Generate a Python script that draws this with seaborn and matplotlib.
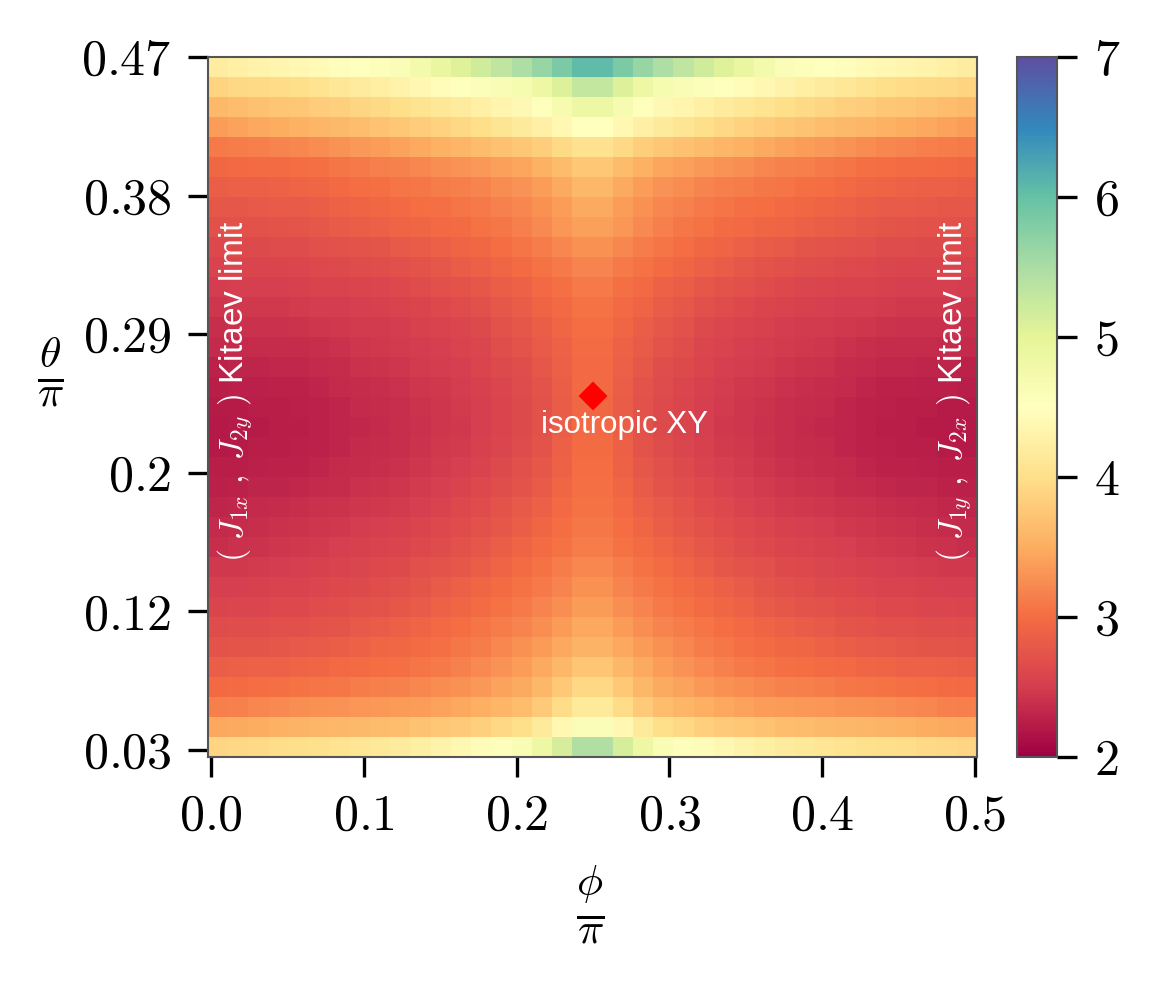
import numpy as np
import pandas as pd
import matplotlib
matplotlib.use("Agg")
import matplotlib.pyplot as plt
import seaborn as sns

# ---------------- data ----------------
# phi/pi at the centre of each column
phi_cols = [0.005, 0.018, 0.031, 0.045, 0.058, 0.071, 0.084, 0.098, 0.111,
            0.124, 0.137, 0.151, 0.164, 0.177, 0.190, 0.204, 0.217, 0.230,
            0.243, 0.257, 0.270, 0.283, 0.296, 0.310, 0.323, 0.336, 0.349,
            0.363, 0.376, 0.389, 0.402, 0.416, 0.429, 0.442, 0.455, 0.469,
            0.482, 0.495]
# theta/pi at the centre of each row (top to bottom)
theta_rows = [0.464, 0.451, 0.438, 0.426, 0.413, 0.400, 0.388, 0.375, 0.362,
              0.350, 0.337, 0.324, 0.311, 0.299, 0.286, 0.273, 0.261, 0.248,
              0.235, 0.223, 0.210, 0.197, 0.184, 0.172, 0.159, 0.146, 0.134,
              0.121, 0.108, 0.096, 0.083, 0.070, 0.058, 0.045, 0.032]
# gap value in each cell, one list per theta row (top row first)
gap = [
    [4.22, 4.26, 4.30, 4.34, 4.38, 4.42, 4.47, 4.51, 4.56, 4.60, 4.75, 4.90, 5.05, 5.19, 5.33, 5.46, 5.64, 5.84, 6.05,
     6.05, 5.84, 5.64, 5.46, 5.33, 5.19, 5.05, 4.90, 4.75, 4.60, 4.56, 4.51, 4.47, 4.42, 4.38, 4.34, 4.30, 4.26, 4.22],
    [3.89, 3.92, 3.94, 3.97, 4.00, 4.06, 4.12, 4.18, 4.24, 4.30, 4.38, 4.45, 4.53, 4.59, 4.65, 4.71, 4.85, 5.07, 5.30,
     5.30, 5.07, 4.85, 4.71, 4.65, 4.59, 4.53, 4.45, 4.38, 4.30, 4.24, 4.18, 4.12, 4.06, 4.00, 3.97, 3.94, 3.92, 3.89],
    [3.61, 3.65, 3.68, 3.72, 3.75, 3.80, 3.85, 3.90, 3.95, 4.00, 4.06, 4.12, 4.18, 4.25, 4.33, 4.40, 4.52, 4.68, 4.85,
     4.85, 4.68, 4.52, 4.40, 4.33, 4.25, 4.18, 4.12, 4.06, 4.00, 3.95, 3.90, 3.85, 3.80, 3.75, 3.72, 3.68, 3.65, 3.61],
    [3.37, 3.41, 3.45, 3.49, 3.53, 3.57, 3.62, 3.66, 3.71, 3.75, 3.81, 3.87, 3.93, 4.00, 4.08, 4.15, 4.25, 4.37, 4.50,
     4.50, 4.37, 4.25, 4.15, 4.08, 4.00, 3.93, 3.87, 3.81, 3.75, 3.71, 3.66, 3.62, 3.57, 3.53, 3.49, 3.45, 3.41, 3.37],
    [3.11, 3.13, 3.15, 3.18, 3.20, 3.24, 3.29, 3.33, 3.38, 3.42, 3.47, 3.53, 3.58, 3.64, 3.69, 3.74, 3.83, 3.94, 4.05,
     4.05, 3.94, 3.83, 3.74, 3.69, 3.64, 3.58, 3.53, 3.47, 3.42, 3.38, 3.33, 3.29, 3.24, 3.20, 3.18, 3.15, 3.13, 3.11],
    [2.95, 2.97, 2.98, 2.99, 3.00, 3.03, 3.07, 3.10, 3.14, 3.17, 3.21, 3.25, 3.29, 3.34, 3.39, 3.44, 3.53, 3.64, 3.75,
     3.75, 3.64, 3.53, 3.44, 3.39, 3.34, 3.29, 3.25, 3.21, 3.17, 3.14, 3.10, 3.07, 3.03, 3.00, 2.99, 2.98, 2.97, 2.95],
    [2.85, 2.86, 2.87, 2.89, 2.90, 2.93, 2.96, 3.00, 3.03, 3.06, 3.09, 3.12, 3.15, 3.19, 3.24, 3.29, 3.37, 3.48, 3.60,
     3.60, 3.48, 3.37, 3.29, 3.24, 3.19, 3.15, 3.12, 3.09, 3.06, 3.03, 3.00, 2.96, 2.93, 2.90, 2.89, 2.87, 2.86, 2.85],
    [2.77, 2.78, 2.79, 2.81, 2.82, 2.85, 2.88, 2.91, 2.94, 2.97, 3.00, 3.03, 3.06, 3.10, 3.16, 3.21, 3.28, 3.38, 3.48,
     3.48, 3.38, 3.28, 3.21, 3.16, 3.10, 3.06, 3.03, 3.00, 2.97, 2.94, 2.91, 2.88, 2.85, 2.82, 2.81, 2.79, 2.78, 2.77],
    [2.70, 2.71, 2.72, 2.74, 2.75, 2.78, 2.81, 2.84, 2.87, 2.90, 2.93, 2.96, 2.99, 3.04, 3.09, 3.14, 3.22, 3.31, 3.40,
     3.40, 3.31, 3.22, 3.14, 3.09, 3.04, 2.99, 2.96, 2.93, 2.90, 2.87, 2.84, 2.81, 2.78, 2.75, 2.74, 2.72, 2.71, 2.70],
    [2.62, 2.63, 2.64, 2.65, 2.66, 2.69, 2.71, 2.74, 2.76, 2.79, 2.83, 2.86, 2.90, 2.95, 3.00, 3.06, 3.13, 3.20, 3.28,
     3.28, 3.20, 3.13, 3.06, 3.00, 2.95, 2.90, 2.86, 2.83, 2.79, 2.76, 2.74, 2.71, 2.69, 2.66, 2.65, 2.64, 2.63, 2.62],
    [2.56, 2.57, 2.58, 2.58, 2.59, 2.61, 2.63, 2.65, 2.67, 2.69, 2.74, 2.78, 2.83, 2.87, 2.92, 2.98, 3.04, 3.11, 3.18,
     3.18, 3.11, 3.04, 2.98, 2.92, 2.87, 2.83, 2.78, 2.74, 2.69, 2.67, 2.65, 2.63, 2.61, 2.59, 2.58, 2.58, 2.57, 2.56],
    [2.50, 2.51, 2.52, 2.52, 2.53, 2.55, 2.56, 2.58, 2.59, 2.61, 2.65, 2.69, 2.73, 2.78, 2.84, 2.89, 2.96, 3.03, 3.10,
     3.10, 3.03, 2.96, 2.89, 2.84, 2.78, 2.73, 2.69, 2.65, 2.61, 2.59, 2.58, 2.56, 2.55, 2.53, 2.52, 2.52, 2.51, 2.50],
    [2.44, 2.45, 2.46, 2.46, 2.47, 2.49, 2.50, 2.52, 2.53, 2.55, 2.58, 2.62, 2.65, 2.70, 2.77, 2.83, 2.90, 2.97, 3.05,
     3.05, 2.97, 2.90, 2.83, 2.77, 2.70, 2.65, 2.62, 2.58, 2.55, 2.53, 2.52, 2.50, 2.49, 2.47, 2.46, 2.46, 2.45, 2.44],
    [2.39, 2.40, 2.41, 2.41, 2.42, 2.44, 2.45, 2.47, 2.48, 2.50, 2.53, 2.56, 2.59, 2.64, 2.71, 2.78, 2.85, 2.92, 3.00,
     3.00, 2.92, 2.85, 2.78, 2.71, 2.64, 2.59, 2.56, 2.53, 2.50, 2.48, 2.47, 2.45, 2.44, 2.42, 2.41, 2.41, 2.40, 2.39],
    [2.34, 2.35, 2.36, 2.36, 2.37, 2.39, 2.41, 2.43, 2.45, 2.47, 2.50, 2.52, 2.55, 2.60, 2.67, 2.73, 2.81, 2.89, 2.98,
     2.98, 2.89, 2.81, 2.73, 2.67, 2.60, 2.55, 2.52, 2.50, 2.47, 2.45, 2.43, 2.41, 2.39, 2.37, 2.36, 2.36, 2.35, 2.34],
    [2.29, 2.30, 2.31, 2.32, 2.33, 2.35, 2.37, 2.40, 2.42, 2.44, 2.47, 2.49, 2.52, 2.57, 2.63, 2.68, 2.77, 2.87, 2.97,
     2.97, 2.87, 2.77, 2.68, 2.63, 2.57, 2.52, 2.49, 2.47, 2.44, 2.42, 2.40, 2.37, 2.35, 2.33, 2.32, 2.31, 2.30, 2.29],
    [2.25, 2.26, 2.27, 2.28, 2.29, 2.31, 2.34, 2.36, 2.39, 2.41, 2.44, 2.46, 2.49, 2.54, 2.60, 2.65, 2.74, 2.85, 2.96,
     2.96, 2.85, 2.74, 2.65, 2.60, 2.54, 2.49, 2.46, 2.44, 2.41, 2.39, 2.36, 2.34, 2.31, 2.29, 2.28, 2.27, 2.26, 2.25],
    [2.22, 2.23, 2.24, 2.25, 2.26, 2.29, 2.31, 2.34, 2.36, 2.39, 2.42, 2.44, 2.47, 2.52, 2.58, 2.63, 2.72, 2.83, 2.95,
     2.95, 2.83, 2.72, 2.63, 2.58, 2.52, 2.47, 2.44, 2.42, 2.39, 2.36, 2.34, 2.31, 2.29, 2.26, 2.25, 2.24, 2.23, 2.22],
    [2.21, 2.22, 2.23, 2.24, 2.25, 2.28, 2.30, 2.33, 2.35, 2.38, 2.41, 2.43, 2.46, 2.51, 2.57, 2.63, 2.72, 2.84, 2.96,
     2.96, 2.84, 2.72, 2.63, 2.57, 2.51, 2.46, 2.43, 2.41, 2.38, 2.35, 2.33, 2.30, 2.28, 2.25, 2.24, 2.23, 2.22, 2.21],
    [2.21, 2.23, 2.24, 2.25, 2.26, 2.29, 2.31, 2.34, 2.36, 2.39, 2.42, 2.45, 2.48, 2.53, 2.59, 2.65, 2.74, 2.86, 2.98,
     2.98, 2.86, 2.74, 2.65, 2.59, 2.53, 2.48, 2.45, 2.42, 2.39, 2.36, 2.34, 2.31, 2.29, 2.26, 2.25, 2.24, 2.23, 2.21],
    [2.24, 2.25, 2.26, 2.28, 2.29, 2.31, 2.34, 2.36, 2.39, 2.41, 2.44, 2.48, 2.51, 2.56, 2.63, 2.69, 2.78, 2.89, 3.00,
     3.00, 2.89, 2.78, 2.69, 2.63, 2.56, 2.51, 2.48, 2.44, 2.41, 2.39, 2.36, 2.34, 2.31, 2.29, 2.28, 2.26, 2.25, 2.24],
    [2.27, 2.28, 2.30, 2.31, 2.33, 2.35, 2.37, 2.40, 2.42, 2.44, 2.48, 2.52, 2.56, 2.61, 2.68, 2.74, 2.82, 2.92, 3.02,
     3.02, 2.92, 2.82, 2.74, 2.68, 2.61, 2.56, 2.52, 2.48, 2.44, 2.42, 2.40, 2.37, 2.35, 2.33, 2.31, 2.30, 2.28, 2.27],
    [2.31, 2.32, 2.34, 2.36, 2.38, 2.40, 2.42, 2.44, 2.46, 2.48, 2.52, 2.56, 2.61, 2.66, 2.73, 2.79, 2.87, 2.96, 3.05,
     3.05, 2.96, 2.87, 2.79, 2.73, 2.66, 2.61, 2.56, 2.52, 2.48, 2.46, 2.44, 2.42, 2.40, 2.38, 2.36, 2.34, 2.32, 2.31],
    [2.34, 2.36, 2.38, 2.40, 2.42, 2.44, 2.46, 2.49, 2.51, 2.53, 2.57, 2.61, 2.66, 2.71, 2.78, 2.85, 2.92, 3.00, 3.08,
     3.08, 3.00, 2.92, 2.85, 2.78, 2.71, 2.66, 2.61, 2.57, 2.53, 2.51, 2.49, 2.46, 2.44, 2.42, 2.40, 2.38, 2.36, 2.34],
    [2.38, 2.40, 2.42, 2.44, 2.46, 2.48, 2.51, 2.53, 2.56, 2.58, 2.62, 2.66, 2.71, 2.77, 2.84, 2.90, 2.98, 3.05, 3.12,
     3.12, 3.05, 2.98, 2.90, 2.84, 2.77, 2.71, 2.66, 2.62, 2.58, 2.56, 2.53, 2.51, 2.48, 2.46, 2.44, 2.42, 2.40, 2.38],
    [2.45, 2.46, 2.48, 2.49, 2.51, 2.54, 2.56, 2.59, 2.61, 2.64, 2.69, 2.74, 2.78, 2.84, 2.91, 2.98, 3.05, 3.12, 3.20,
     3.20, 3.12, 3.05, 2.98, 2.91, 2.84, 2.78, 2.74, 2.69, 2.64, 2.61, 2.59, 2.56, 2.54, 2.51, 2.49, 2.48, 2.46, 2.45],
    [2.51, 2.52, 2.53, 2.55, 2.56, 2.59, 2.62, 2.64, 2.67, 2.70, 2.75, 2.81, 2.86, 2.92, 2.98, 3.04, 3.11, 3.19, 3.27,
     3.27, 3.19, 3.11, 3.04, 2.98, 2.92, 2.86, 2.81, 2.75, 2.70, 2.67, 2.64, 2.62, 2.59, 2.56, 2.55, 2.53, 2.52, 2.51],
    [2.57, 2.59, 2.60, 2.61, 2.62, 2.65, 2.68, 2.71, 2.74, 2.77, 2.82, 2.88, 2.93, 2.99, 3.05, 3.10, 3.18, 3.26, 3.35,
     3.35, 3.26, 3.18, 3.10, 3.05, 2.99, 2.93, 2.88, 2.82, 2.77, 2.74, 2.71, 2.68, 2.65, 2.62, 2.61, 2.60, 2.59, 2.57],
    [2.65, 2.67, 2.68, 2.69, 2.70, 2.73, 2.76, 2.80, 2.83, 2.86, 2.91, 2.96, 3.00, 3.06, 3.12, 3.18, 3.26, 3.36, 3.46,
     3.46, 3.36, 3.26, 3.18, 3.12, 3.06, 3.00, 2.96, 2.91, 2.86, 2.83, 2.80, 2.76, 2.73, 2.70, 2.69, 2.68, 2.67, 2.65],
    [2.74, 2.75, 2.76, 2.78, 2.79, 2.82, 2.85, 2.89, 2.92, 2.95, 2.99, 3.03, 3.08, 3.13, 3.20, 3.27, 3.36, 3.46, 3.56,
     3.56, 3.46, 3.36, 3.27, 3.20, 3.13, 3.08, 3.03, 2.99, 2.95, 2.92, 2.89, 2.85, 2.82, 2.79, 2.78, 2.76, 2.75, 2.74],
    [2.85, 2.86, 2.88, 2.89, 2.91, 2.93, 2.96, 2.98, 3.01, 3.03, 3.07, 3.11, 3.16, 3.22, 3.30, 3.37, 3.47, 3.59, 3.72,
     3.72, 3.59, 3.47, 3.37, 3.30, 3.22, 3.16, 3.11, 3.07, 3.03, 3.01, 2.98, 2.96, 2.93, 2.91, 2.89, 2.88, 2.86, 2.85],
    [2.97, 2.99, 3.01, 3.03, 3.05, 3.07, 3.09, 3.12, 3.14, 3.16, 3.20, 3.24, 3.28, 3.34, 3.41, 3.48, 3.60, 3.76, 3.92,
     3.92, 3.76, 3.60, 3.48, 3.41, 3.34, 3.28, 3.24, 3.20, 3.16, 3.14, 3.12, 3.09, 3.07, 3.05, 3.03, 3.01, 2.99, 2.97],
    [3.15, 3.17, 3.20, 3.22, 3.25, 3.27, 3.29, 3.31, 3.33, 3.35, 3.38, 3.42, 3.45, 3.51, 3.58, 3.65, 3.78, 3.96, 4.15,
     4.15, 3.96, 3.78, 3.65, 3.58, 3.51, 3.45, 3.42, 3.38, 3.35, 3.33, 3.31, 3.29, 3.27, 3.25, 3.22, 3.20, 3.17, 3.15],
    [3.46, 3.48, 3.50, 3.53, 3.55, 3.57, 3.59, 3.61, 3.63, 3.65, 3.70, 3.74, 3.79, 3.85, 3.93, 4.00, 4.15, 4.37, 4.60,
     4.60, 4.37, 4.15, 4.00, 3.93, 3.85, 3.79, 3.74, 3.70, 3.65, 3.63, 3.61, 3.59, 3.57, 3.55, 3.53, 3.50, 3.48, 3.46],
    [3.91, 3.93, 3.95, 3.98, 4.00, 4.03, 4.07, 4.10, 4.14, 4.17, 4.24, 4.31, 4.38, 4.46, 4.55, 4.64, 4.84, 5.14, 5.45,
     5.45, 5.14, 4.84, 4.64, 4.55, 4.46, 4.38, 4.31, 4.24, 4.17, 4.14, 4.10, 4.07, 4.03, 4.00, 3.98, 3.95, 3.93, 3.91],
]

xtick_vals = [0.0, 0.1, 0.2, 0.3, 0.4, 0.5]
xtick_labels = ["0.0", "0.1", "0.2", "0.3", "0.4", "0.5"]
ytick_vals = [0.47, 0.382, 0.294, 0.206, 0.118, 0.03]
ytick_labels = ["0.47", "0.38", "0.29", "0.2", "0.12", "0.03"]
cbar_ticks = [2, 3, 4, 5, 6, 7]
iso_phi, iso_theta = 0.25, 0.255

# ---------------- style ----------------
plt.rcParams["mathtext.fontset"] = "cm"
plt.rcParams["font.family"] = ["Liberation Sans", "DejaVu Sans"]

W, H = 1159, 983
fig = plt.figure(figsize=(W / 300, H / 300), dpi=300)
ax = fig.add_axes([208 / W, 1 - 757 / H, 769 / W, 700 / H])
cax = fig.add_axes([1017 / W, 1 - 757 / H, 40 / W, 700 / H])

df = pd.DataFrame(gap, index=theta_rows, columns=phi_cols)
sns.heatmap(df, ax=ax, cbar_ax=cax, cmap="Spectral", vmin=2, vmax=7,
            xticklabels=False, yticklabels=False)

nr, nc = df.shape


def xpos(p):
    return nc * (3 + p / 0.5 * 764) / 769


def ypos(t):
    return nr * ((0.47 - t) / 0.44 * 693) / 700


ax.set_xticks([xpos(p) for p in xtick_vals])
ax.set_xticklabels(["$%s$" % s for s in xtick_labels], rotation=0)
ax.set_yticks([ypos(t) for t in ytick_vals])
ax.set_yticklabels(["$%s$" % s for s in ytick_labels], rotation=0)
ax.tick_params(length=4.8, width=0.8, labelsize=12, pad=4, color="black",
               direction="out")
for sp in ax.spines.values():
    sp.set_visible(True)
    sp.set_linewidth(0.5)
    sp.set_edgecolor("#555555")

cbar = ax.collections[0].colorbar
cbar.set_ticks(cbar_ticks)
cbar.set_ticklabels(["$%d$" % v for v in cbar_ticks])
cbar.outline.set_visible(True)
cbar.outline.set_linewidth(0.5)
cbar.outline.set_edgecolor("#555555")
cax.tick_params(length=4.8, width=0.8, labelsize=12, pad=4, color="black")

# axis labels
fig.text(590 / W, 1 - 905 / H, r"$\frac{\phi}{\pi}$", fontsize=15,
         ha="center", va="center")
fig.text(50 / W, 1 - 372 / H, r"$\frac{\theta}{\pi}$", fontsize=15,
         ha="center", va="center")

# annotations
ax.plot([xpos(iso_phi)], [ypos(iso_theta)], marker="D", color="red",
        markersize=4.4, markeredgewidth=0.5, linestyle="none")
ax.text(0.542, 0.474, "isotropic XY", transform=ax.transAxes, color="white",
        fontsize=7.5, ha="center", va="center")
ax.text(0.034, 0.522, r"$(\ J_{1x}\ ,\ J_{2y}\ )$ Kitaev limit",
        transform=ax.transAxes, color="white", fontsize=8, rotation=90,
        ha="center", va="center")
ax.text(0.970, 0.523, r"$(\ J_{1y}\ ,\ J_{2x}\ )$ Kitaev limit",
        transform=ax.transAxes, color="white", fontsize=8, rotation=90,
        ha="center", va="center")

fig.savefig("out.png", dpi=300)
